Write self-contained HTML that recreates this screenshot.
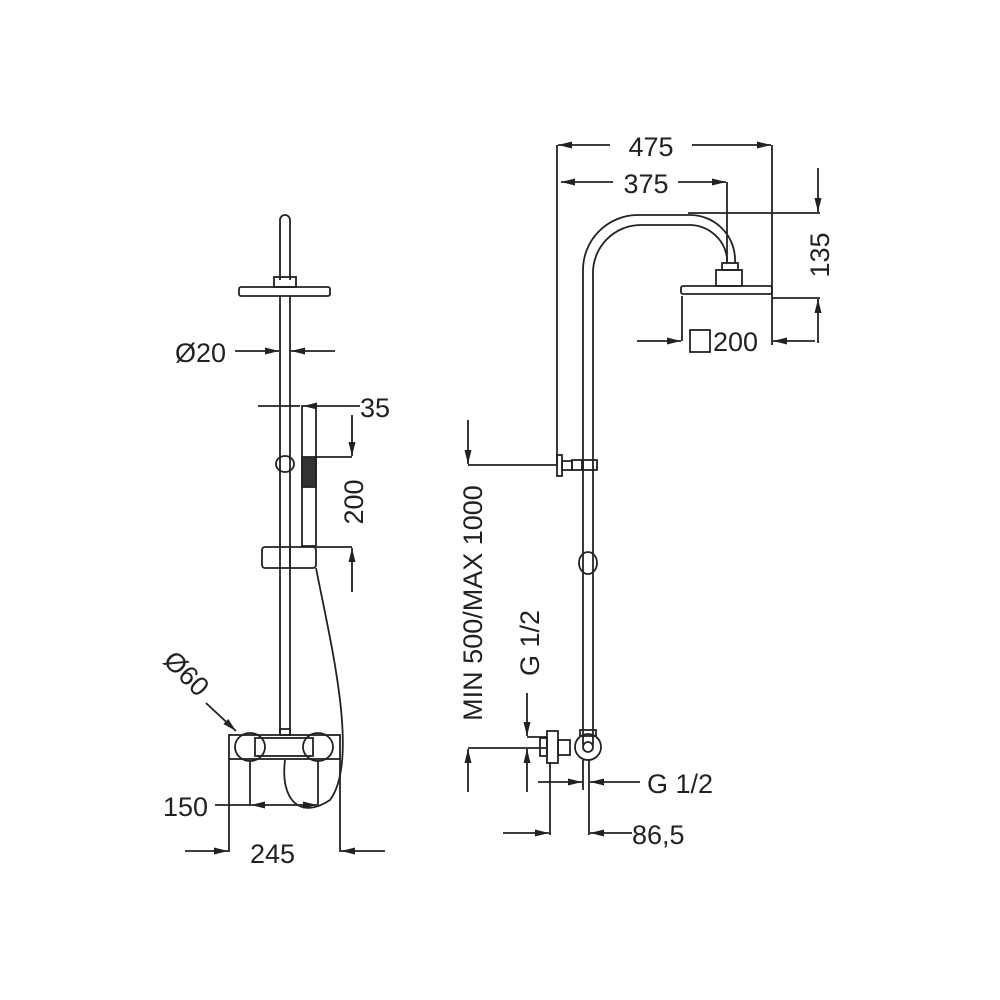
<!DOCTYPE html>
<html><head><meta charset="utf-8"><style>
html,body{margin:0;padding:0;background:#fff;width:1000px;height:1000px;overflow:hidden}
text{font-family:"Liberation Sans",sans-serif;fill:#222}
</style></head><body>
<svg width="1000" height="1000" viewBox="0 0 1000 1000" xmlns="http://www.w3.org/2000/svg">
<defs>
<marker id="a" viewBox="0 0 14 7" refX="14" refY="3.5" markerWidth="14" markerHeight="7" markerUnits="userSpaceOnUse" orient="auto"><path d="M0,0 L14,3.5 L0,7 z" fill="#222"/></marker>
</defs>
<g fill="none" stroke="#222" stroke-width="1.8">
<path d="M280,280 V220 a5,5 0 0 1 10,0 V280"/>
<rect x="274" y="277" width="22" height="10"/>
<rect x="239" y="287" width="91" height="9" rx="2"/>
<line x1="280" y1="296" x2="280" y2="735"/>
<line x1="290" y1="296" x2="290" y2="735"/>
<ellipse cx="285" cy="464" rx="9" ry="8"/>
<path d="M302,405 V546 H316 V405"/>
<rect x="302" y="457" width="14" height="30" fill="#333"/>
<rect x="262" y="547" width="54" height="21" rx="3"/>
<line x1="290" y1="547" x2="290" y2="568"/>
<path d="M316,568 C330,640 360,760 330,800 C300,820 280,800 285,760"/>
<rect x="229" y="735" width="111" height="24"/>
<ellipse cx="250" cy="747" rx="15" ry="14"/>
<ellipse cx="318" cy="747" rx="15" ry="14"/>
<rect x="255" y="738" width="58" height="18"/>
<rect x="280" y="729" width="10" height="6"/>
<line x1="235" y1="351" x2="279" y2="351" marker-end="url(#a)"/>
<line x1="335" y1="351" x2="291" y2="351" marker-end="url(#a)"/>
<line x1="258" y1="406" x2="300" y2="406"/>
<line x1="360" y1="406" x2="303" y2="406" marker-end="url(#a)"/>
<line x1="316" y1="457" x2="352" y2="457"/>
<line x1="352" y1="415" x2="352" y2="456" marker-end="url(#a)"/>
<line x1="316" y1="547" x2="352" y2="547"/>
<line x1="352" y1="592" x2="352" y2="548" marker-end="url(#a)"/>
<line x1="206" y1="703" x2="236" y2="731" marker-end="url(#a)"/>
<line x1="229" y1="759" x2="229" y2="852"/>
<line x1="340" y1="759" x2="340" y2="852"/>
<line x1="250" y1="761" x2="250" y2="806"/>
<line x1="318" y1="761" x2="318" y2="806"/>
<line x1="215" y1="805" x2="250" y2="805"/>
<line x1="285" y1="805" x2="251" y2="805" marker-end="url(#a)"/>
<line x1="285" y1="805" x2="317" y2="805" marker-end="url(#a)"/>
<line x1="185" y1="851" x2="228" y2="851" marker-end="url(#a)"/>
<line x1="385" y1="851" x2="341" y2="851" marker-end="url(#a)"/>

<path d="M583,745 V270 A55,55 0 0 1 638,215 H690 A45,45 0 0 1 735,258 V263"/>
<path d="M593,745 V275 A48,48 0 0 1 641,225 H688 A38,38 0 0 1 727,258 V263"/>
<rect x="722" y="263" width="16" height="7"/>
<rect x="716" y="270" width="26" height="16"/>
<rect x="681" y="286" width="91" height="8" rx="2"/>
<ellipse cx="588" cy="563" rx="9" ry="11"/>
<rect x="557" y="455" width="5" height="21"/>
<rect x="562" y="461" width="10" height="9"/>
<rect x="572" y="460" width="10" height="10"/>
<rect x="583" y="460" width="14" height="10"/>
<rect x="547" y="731" width="11" height="32"/>
<rect x="540" y="738" width="7" height="18"/>
<rect x="558" y="740" width="12" height="15"/>
<circle cx="588" cy="747" r="13"/>
<circle cx="588" cy="747" r="5"/>
<rect x="580" y="730" width="16" height="6"/>
<line x1="557" y1="145" x2="557" y2="465"/>
<line x1="772" y1="145" x2="772" y2="345"/>
<line x1="727" y1="182" x2="727" y2="263"/>
<line x1="610" y1="145" x2="558" y2="145" marker-end="url(#a)"/>
<line x1="692" y1="145" x2="771" y2="145" marker-end="url(#a)"/>
<line x1="613" y1="182" x2="561" y2="182" marker-end="url(#a)"/>
<line x1="678" y1="182" x2="726" y2="182" marker-end="url(#a)"/>
<line x1="688" y1="213" x2="820" y2="213"/>
<line x1="772" y1="298" x2="820" y2="298"/>
<line x1="818" y1="168" x2="818" y2="212" marker-end="url(#a)"/>
<line x1="818" y1="343" x2="818" y2="299" marker-end="url(#a)"/>
<line x1="682" y1="296" x2="682" y2="341"/>
<line x1="637" y1="341" x2="681" y2="341" marker-end="url(#a)"/>
<line x1="815" y1="341" x2="773" y2="341" marker-end="url(#a)"/>
<rect x="690" y="330" width="20" height="22"/>
<line x1="468" y1="465" x2="557" y2="465"/>
<line x1="468" y1="420" x2="468" y2="464" marker-end="url(#a)"/>
<line x1="468" y1="748" x2="547" y2="748"/>
<line x1="468" y1="792" x2="468" y2="749" marker-end="url(#a)"/>
<line x1="527" y1="737" x2="547" y2="737"/>
<line x1="527" y1="693" x2="527" y2="736" marker-end="url(#a)"/>
<line x1="527" y1="792" x2="527" y2="749" marker-end="url(#a)"/>
<line x1="583" y1="760" x2="583" y2="790"/>
<line x1="589" y1="760" x2="589" y2="835"/>
<line x1="550" y1="763" x2="550" y2="835"/>
<line x1="538" y1="782" x2="582" y2="782" marker-end="url(#a)"/>
<line x1="640" y1="782" x2="590" y2="782" marker-end="url(#a)"/>
<line x1="503" y1="833" x2="549" y2="833" marker-end="url(#a)"/>
<line x1="632" y1="833" x2="590" y2="833" marker-end="url(#a)"/>
</g>
<g font-size="27">
<text x="175" y="362">Ø20</text>
<text x="360" y="417">35</text>
<text transform="translate(363,502) rotate(-90)" text-anchor="middle">200</text>
<text transform="translate(180,680) rotate(45)" text-anchor="middle">Ø60</text>
<text x="163" y="816">150</text>
<text x="250" y="863">245</text>
<text x="651" y="156" text-anchor="middle">475</text>
<text x="646" y="193" text-anchor="middle">375</text>
<text transform="translate(829,255) rotate(-90)" text-anchor="middle">135</text>
<text x="713" y="351">200</text>
<text transform="translate(482,603) rotate(-90)" text-anchor="middle">MIN 500/MAX 1000</text>
<text transform="translate(539,643) rotate(-90)" text-anchor="middle">G 1/2</text>
<text x="647" y="793">G 1/2</text>
<text x="632" y="844">86,5</text>
</g>
</svg>
</body></html>
